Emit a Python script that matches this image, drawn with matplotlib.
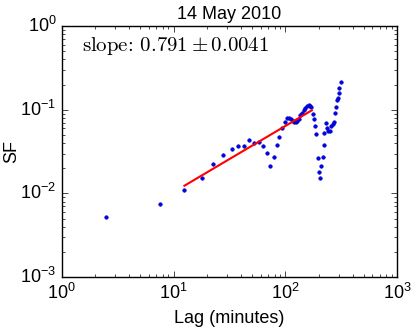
import matplotlib
matplotlib.use("Agg")
import matplotlib.pyplot as plt
import numpy as np

# structure function vs lag
lag = [2.5, 7.6, 12.4, 17.8, 22.6, 27.8, 33.1, 37.9, 42.9, 47.5, 52.7, 58.0,
       62.6, 68.0, 73.3, 78.5, 83.6, 88.2, 92.7, 98.6, 102.8, 107.7, 112.2,
       116.2, 119.4, 124.4, 127.8, 132.4, 136.0, 140.9, 145.8, 150.8, 156.0,
       161.6, 166.0, 169.5, 175.5, 181.4, 184.0, 189.0, 194.5, 198.6, 202.8,
       209.6, 215.7, 220.2, 223.0, 229.5, 237.0, 242.0, 250.8, 257.6, 265.0,
       272.4, 280.0, 285.6, 289.7, 293.8, 299.8, 303.9, 312.8]
sf = [0.0052, 0.0075, 0.011, 0.0154, 0.0227, 0.0288, 0.0343, 0.0369, 0.0369,
      0.044, 0.0405, 0.0416, 0.0369, 0.0307, 0.0212, 0.0272, 0.0383, 0.0473,
      0.0605, 0.0715, 0.0798, 0.0798, 0.0776, 0.0734, 0.0709, 0.0715, 0.0734,
      0.0784, 0.0859, 0.0925, 0.0986, 0.105, 0.110, 0.113, 0.112, 0.107,
      0.0891, 0.0769, 0.064, 0.0519, 0.0265, 0.0182, 0.0153, 0.0215, 0.0272,
      0.0383, 0.0533, 0.0695, 0.0605, 0.0553, 0.0556, 0.064, 0.0684, 0.0715,
      0.0916, 0.108, 0.130, 0.140, 0.159, 0.184, 0.215]

# power-law fit
slope = 0.791
slope_err = 0.0041
amp = 0.001677
fit_range = [12.5, 172.5]

plt.style.use("classic")
plt.rcParams["font.family"] = ["Liberation Sans", "DejaVu Sans"]
plt.rcParams["mathtext.fontset"] = "cm"
plt.rcParams["axes.unicode_minus"] = False

fig = plt.figure(figsize=(4.15, 3.31), dpi=100, facecolor="white")
ax = fig.add_axes([0.149, 0.163, 0.808, 0.758])

ax.loglog(lag, sf, ".", color="b", markeredgecolor="#0000b0", markersize=5)
fx = np.array(fit_range)
ax.loglog(fx, amp * fx ** slope, "r-", linewidth=1.5)

ax.set_xlim(1, 1000)
ax.set_ylim(1e-3, 1)
ax.set_title("14 May 2010", fontsize=13)
ax.set_xlabel("Lag (minutes)", fontsize=13)
ax.set_ylabel("SF", fontsize=13)
ax.yaxis.set_label_coords(-0.125, 0.5)
ax.tick_params(labelsize=13)
ax.text(0.06, 0.9, "slope: $%.3f \\pm %.4f$" % (slope, slope_err),
        transform=ax.transAxes, fontsize=15, family="cmr10")

fig.savefig("out.png", dpi=100, facecolor="white")
